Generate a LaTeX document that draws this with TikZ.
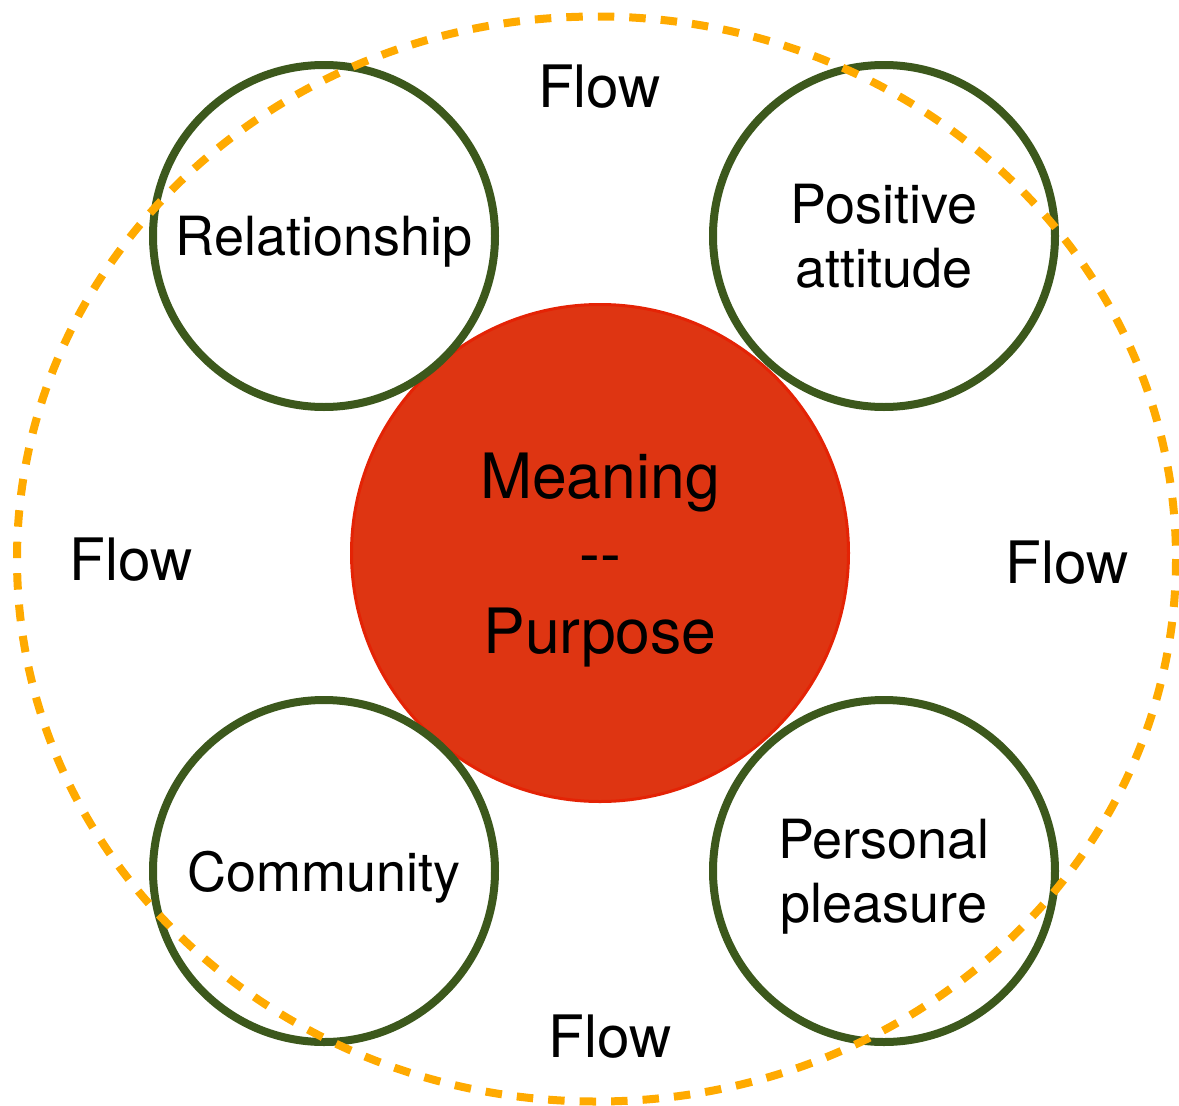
\documentclass[tikz,border=0pt]{standalone}
\usepackage{fontspec}
\setmainfont{TeX Gyre Heros}
\definecolor{ringorange}{RGB}{255,170,0}
\definecolor{leafgreen}{RGB}{60,88,28}
\definecolor{corefill}{RGB}{222,53,18}
\definecolor{coreline}{RGB}{228,35,5}
\begin{document}
\begin{tikzpicture}[x=1pt,y=-1pt,
  core/.style={circle, draw=coreline, line width=3pt, fill=corefill,
    minimum size=497pt, inner sep=0pt, align=center, text depth=0pt,
    font=\fontsize{62.5}{77.5}\selectfont},
  pillar/.style={circle, draw=leafgreen, line width=8pt, fill=white,
    minimum size=342pt, inner sep=0pt, align=center, text depth=0pt,
    font=\fontsize{54}{63.5}\selectfont},
  flowlabel/.style={anchor=base, inner sep=0pt,
    font=\fontsize{58.5}{70}\selectfont},
  flowring/.style={draw=ringorange, line width=8pt,
    dash pattern=on 16.5pt off 15pt}]
\useasboundingbox (0,0) rectangle (1179,1106);

% central theme
\node[core] (core) at (600,553) {Meaning\\-{}-\\Purpose};

% four supporting circles
\node[pillar] (rel) at (324,236) {Relationship};
\node[pillar] (pos) at (884,236) {Positive\\attitude};
\node[pillar] (com) at (324,871) {Community};
\node[pillar] (ple) at (884,871) {Personal\\pleasure};

% dashed flow ring around everything
\coordinate (ringc) at (596.5,559);
\path[flowring] (ringc) ellipse [x radius=579.5, y radius=542.5];

% flow labels
\node[flowlabel] (ftop) at (599.5,107) {Flow};
\node[flowlabel] (fleft) at (131,580) {Flow};
\node[flowlabel] (fright) at (1067,583) {Flow};
\node[flowlabel] (fbottom) at (610,1057) {Flow};
\end{tikzpicture}
\end{document}
